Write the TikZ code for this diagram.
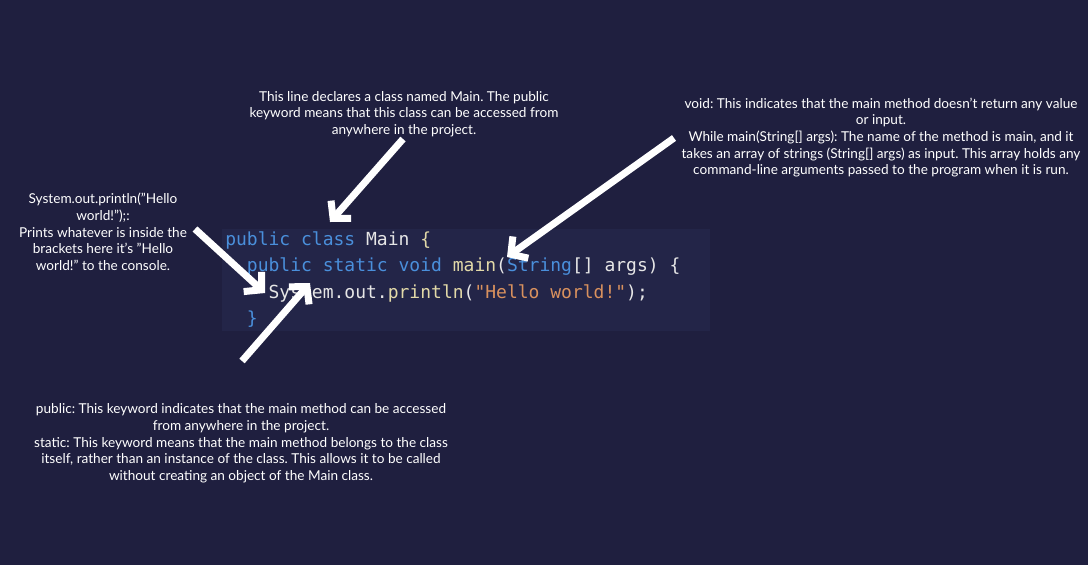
\documentclass[tikz,border=0pt]{standalone}
\usepackage{fontspec}
\setmainfont{Lato}
\setmonofont{DejaVu Sans Mono}
\usepackage{xcolor}
\usetikzlibrary{arrows.meta}
\definecolor{fondo}{HTML}{1F1F3F}
\definecolor{panel}{HTML}{232548}
\definecolor{kw}{HTML}{4A8FDB}
\definecolor{fn}{HTML}{E2D9A8}
\definecolor{cad}{HTML}{D9915E}
\definecolor{txt}{HTML}{E6E6E6}
\frenchspacing

\begin{document}
\begin{tikzpicture}[
    x=0.75pt, y=-0.75pt,
    nota/.style={text=white, align=center, inner sep=0pt, font=\fontsize{10.2}{12.5}\selectfont},
    linea/.style={anchor=base west, inner sep=0pt, text=txt, font=\ttfamily\fontsize{13.5}{20}\selectfont},
    flecha/.style={white, line width=5.25pt, -{Straight Barb[length=9pt, width=20pt]}},
]
    \fill[fondo] (0,0) rectangle (1088,565);
    \useasboundingbox (0,0) rectangle (1088,565);
    % code panel
    \fill[panel] (222,229) rectangle (710,331);
    \node[linea] (l1) at (225,245) {\textcolor{kw}{public class} Main \textcolor{fn}{\{}};
    \node[linea] (l2) at (225,271.5) {\phantom{xx}\textcolor{kw}{public static void} \textcolor{fn}{main}(\textcolor{kw}{String}[] args) \{};
    \node[linea] (l3) at (225,298) {\phantom{xxxx}System.out.\textcolor{fn}{println}(\textcolor{cad}{"Hello world!"});};
    \node[linea] (l4) at (225,324.5) {\phantom{xx}\textcolor{kw}{\}}};
    % notes
    \node[nota] (clase) at (404,114) {This line declares a class named Main. The public\\keyword means that this class can be accessed from\\anywhere in the project.};
    \node[nota] (vacio) at (881,137.5) {void: This indicates that the main method doesn't return any value\\or input.\\While main(String[] args): The name of the method is main, and it\\takes an array of strings (String[] args) as input. This array holds any\\command-line arguments passed to the program when it is run.};
    \node[nota] (imprime) at (103,232) {System.out.println("Hello\\world!");:\\Prints whatever is inside the\\brackets here it’s "Hello\\world!" to the console.};
    \node[nota] (publico) at (241,443.5) {public: This keyword indicates that the main method can be accessed\\from anywhere in the project.\\static: This keyword means that the main method belongs to the class\\itself, rather than an instance of the class. This allows it to be called\\without creating an object of the Main class.};
    % arrow ends
    \coordinate (a1) at (403,139);
    \coordinate (b1) at (330,222);
    \coordinate (a2) at (195,229);
    \coordinate (b2) at (265,293);
    \coordinate (a3) at (242,361);
    \coordinate (b3) at (310,283);
    \coordinate (a4) at (674,138);
    \coordinate (b4) at (507,257);
    \foreach \a/\b in {a1/b1,a2/b2,a3/b3,a4/b4} \draw[flecha] (\a) -- (\b);
\end{tikzpicture}
\end{document}
